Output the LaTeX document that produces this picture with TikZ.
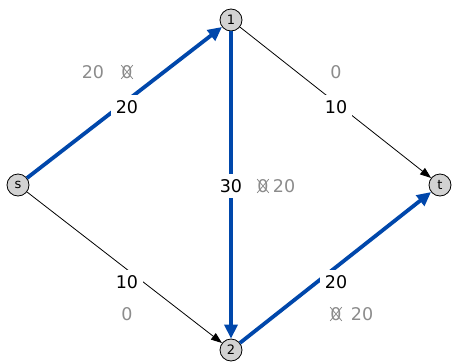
\documentclass[tikz,border=0pt]{standalone}
\usepackage{fontspec}
\setmainfont{DejaVu Sans}
\usetikzlibrary{arrows.meta}
\definecolor{flowblue}{RGB}{0,71,171}
\definecolor{oldgray}{RGB}{140,140,140}
\begin{document}
\begin{tikzpicture}[x=1pt,y=-1pt,
  vert/.style={circle,draw=black,fill={rgb,255:red,210;green,210;blue,210},line width=0.8pt,minimum size=22pt,inner sep=0pt,font=\fontsize{13}{15}\selectfont},
  flow/.style={draw=flowblue,line width=3.8pt,-{Triangle[length=14pt,width=13pt]}},
  plain/.style={draw=black,line width=0.8pt,-{Triangle[length=11pt,width=8pt]}},
  capnum/.style={fill=white,inner sep=5pt,font=\fontsize{17.5}{20}\selectfont},
  old/.style={text=oldgray,inner sep=0pt,font=\fontsize{17.5}{20}\selectfont},
  xline/.style={draw=oldgray,line width=0.8pt}]
\path[use as bounding box,fill=white] (0,0) rectangle (452,362);
\node[vert] (s) at (18,185) {s};
\node[vert] (v1) at (231,20) {1};
\node[vert] (v2) at (231,350) {2};
\node[vert] (t) at (440,185) {t};
\draw[plain] (v1) -- (t);
\draw[plain] (s) -- (v2);
\draw[flow] (s) -- (v1);
\draw[flow] (v1) -- (v2);
\draw[flow] (v2) -- (t);
% capacities
\node[capnum] (c1) at (127,107) {20};
\node[capnum] (c2) at (336,107) {10};
\node[capnum] (c3) at (231,186) {30};
\node[capnum] (c4) at (127,282) {10};
\node[capnum] (c5) at (336,282) {20};
% flows
\node[old] (f1) at (93,72) {20};
\node[old] (x1) at (127,72) {0};
\draw[xline] (x1.north west) -- (x1.south east) (x1.north east) -- (x1.south west);
\node[old] (f2) at (336,72) {0};
\node[old] (x3) at (263,186) {0};
\draw[xline] (x3.north west) -- (x3.south east) (x3.north east) -- (x3.south west);
\node[old] (f3) at (284,186) {20};
\node[old] (f4) at (127,314) {0};
\node[old] (x5) at (336,314) {0};
\draw[xline] (x5.north west) -- (x5.south east) (x5.north east) -- (x5.south west);
\node[old] (f5) at (362,314) {20};
\end{tikzpicture}
\end{document}
